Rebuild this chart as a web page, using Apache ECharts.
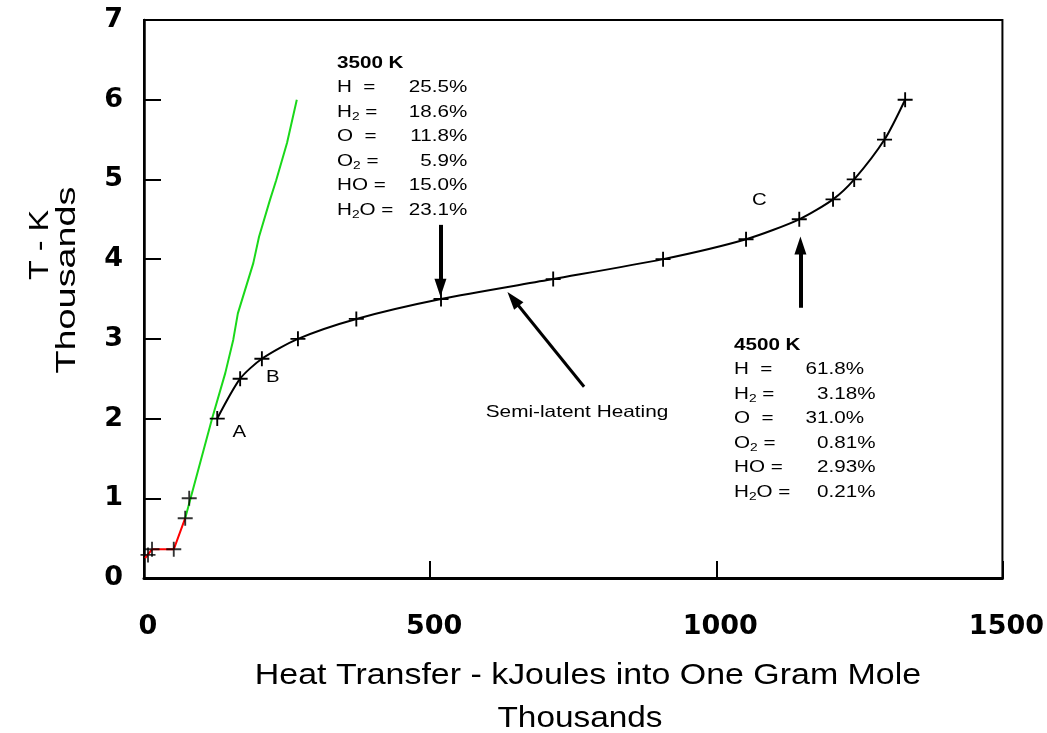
<!DOCTYPE html>
<html>
<head>
<meta charset="utf-8">
<script src="https://cdn.jsdelivr.net/npm/echarts@6/dist/echarts.min.js"></script>
<style>
  html, body { margin: 0; padding: 0; background: #fff; }
  #chart { width: 1047px; height: 733px; }
</style>
</head>
<body>
<div id="chart"></div>
<script>
// Heating of one gram mole of water: heat added (kJ, thousands) vs temperature (K, thousands)

// Early heating points (liquid / vaporisation)
const heatLow = [7, 14, 52, 72, 79];
const tempLow = [0.29, 0.36, 0.36, 0.75, 1.0];

// Dissociating vapour curve, points A onwards
const heatMain = [128, 168, 206, 269, 371, 519, 715, 907, 1052, 1145, 1204, 1241, 1294, 1330];
const tempMain = [2.0, 2.5, 2.75, 3.0, 3.25, 3.5, 3.75, 4.0, 4.25, 4.5, 4.75, 5.0, 5.5, 6.0];

// Liquid water + boiling segment
const heatRed = [2, 14, 52, 72];
const tempRed = [0.25, 0.36, 0.36, 0.75];

// Steam without dissociation
const heatGreen = [72, 119, 142, 156, 164, 191, 201, 220, 231, 250, 267];
const tempGreen = [0.75, 2.0, 2.57, 2.99, 3.32, 3.95, 4.28, 4.74, 4.99, 5.46, 6.0];

// Axis ticks
const xTicks = [0, 500, 1000, 1500];
const yTicks = [0, 1, 2, 3, 4, 5, 6, 7];

// Equilibrium composition tables
const species = ['H  =', 'H{s|2} =', 'O  =', 'O{s|2} =', 'HO =', 'H{s|2}O ='];
const comp3500 = ['25.5', '18.6', '11.8', '5.9', '15.0', '23.1'];
const comp4500 = ['61.8', '3.18', '31.0', '0.81', '2.93', '0.21'];

// Point letters on the main curve (index into heatMain/tempMain)
const pointNames = [{ i: 0, text: 'A' }, { i: 2, text: 'B' }, { i: 9, text: 'C' }];

// Arrows: [from, to] in data units
const arrows = [
  { from: [518, 4.43], to: [518, 3.64], width: 4 },
  { from: [769, 2.40], to: [645, 3.50], width: 3 },
  { from: [1147, 3.39], to: [1147, 4.17], width: 4 }
];

const zip = (a, b) => a.map((v, i) => [v, b[i]]);
const PLUS = 'path://M7,0H9V7H16V9H9V16H7V9H0V7H7Z';
const FONT = '"Liberation Sans", Arial, sans-serif';
const STRETCH = 1.25;

const chart = echarts.init(document.getElementById('chart'));

const tickLabel = {
  color: '#000', fontFamily: 'DejaVu Sans', fontWeight: 'bold', fontSize: 27,
  formatter: v => String(v)
};

const option = {
  animation: false,
  backgroundColor: '#fff',
  grid: { left: 144, right: 44, top: 20, bottom: 155, show: true, borderColor: '#000', borderWidth: 2, backgroundColor: 'transparent' },
  xAxis: {
    type: 'value',
    min: xTicks[0], max: xTicks[xTicks.length - 1], interval: xTicks[1] - xTicks[0],
    axisLine: { show: true, onZero: false, lineStyle: { color: '#000', width: 3 } },
    axisTick: { show: true, inside: true, length: 17, lineStyle: { color: '#000', width: 2 } },
    axisLabel: Object.assign({}, tickLabel, { margin: 35, padding: [0, 0, 0, 8] }),
    splitLine: { show: false }
  },
  yAxis: {
    type: 'value',
    min: yTicks[0], max: yTicks[yTicks.length - 1], interval: yTicks[1] - yTicks[0],
    axisLine: { show: true, onZero: false, lineStyle: { color: '#000', width: 2.5 } },
    axisTick: { show: true, inside: true, length: 17, lineStyle: { color: '#000', width: 2 } },
    axisLabel: Object.assign({}, tickLabel, { margin: 21 }),
    splitLine: { show: false }
  },
  series: [
    {
      name: 'liquid', type: 'line', data: zip(heatRed, tempRed),
      symbol: 'none', lineStyle: { color: '#ff0000', width: 2 }, z: 2
    },
    {
      name: 'steam', type: 'line', data: zip(heatGreen, tempGreen),
      symbol: 'none', lineStyle: { color: '#1ad81a', width: 2 }, z: 3
    },
    {
      name: 'low', type: 'scatter', data: zip(heatLow, tempLow),
      symbol: PLUS, symbolSize: 15, itemStyle: { color: '#000' }, z: 5
    },
    {
      name: 'dissociating', type: 'line', data: zip(heatMain, tempMain),
      smooth: 0.25, symbol: PLUS, symbolSize: 15, showSymbol: true,
      lineStyle: { color: '#000', width: 2 }, itemStyle: { color: '#000' }, z: 4,
      markLine: {
        silent: true, animation: false,
        symbol: ['none', 'triangle'], symbolSize: [12, 18],
        label: { show: false },
        itemStyle: { color: '#000' },
        lineStyle: { color: '#000', type: 'solid', width: 4 },
        data: arrows.map(a => [
          { coord: a.from, lineStyle: { width: a.width, color: '#000', type: 'solid' } },
          { coord: a.to, lineStyle: { width: a.width, color: '#000', type: 'solid' } }
        ])
      }
    }
  ]
};

chart.setOption(option);

// Annotation text
function txt(x, y, text, o) {
  o = o || {};
  return {
    type: 'text', x: x, y: y, z: 100,
    scaleX: o.scaleX || STRETCH, rotation: o.rotation || 0,
    style: {
      text: text, fontFamily: FONT, fontSize: o.size || 16.5,
      fontWeight: o.bold ? 'bold' : 'normal', fill: '#000',
      align: o.align || 'left', verticalAlign: 'middle', lineHeight: 20,
      rich: { s: { fontFamily: FONT, fontSize: 11, lineHeight: 11, verticalAlign: 'bottom', fill: '#000' } }
    }
  };
}

function compBlock(x, decX, y0, title, values) {
  const out = [txt(x, y0, title, { bold: true })];
  species.forEach((s, i) => {
    const y = y0 + 24.5 * (i + 1);
    const parts = values[i].split('.');
    out.push(txt(x, y, s));
    out.push(txt(decX, y, parts[0], { align: 'right' }));
    out.push(txt(decX, y, '.' + parts[1] + '%'));
  });
  return out;
}

const letterOffsets = { A: [22, 14], B: [11, 19], C: [-40, -19] };
const graphic = []
  .concat(compBlock(337, 431.7, 63, '3500 K', comp3500))
  .concat(compBlock(734, 828.5, 345, '4500 K', comp4500))
  .concat([
    txt(577, 412, 'Semi-latent Heating', { align: 'center', scaleX: 1.26 }),
    txt(588, 676, 'Heat Transfer - kJoules into One Gram Mole', { align: 'center', size: 29, scaleX: 1.17 }),
    txt(580, 719, 'Thousands', { align: 'center', size: 29, scaleX: 1.15 }),
    txt(41, 245, 'T - K', { align: 'center', size: 27, scaleX: 1.2, rotation: Math.PI / 2 }),
    txt(68, 280, 'Thousands', { align: 'center', size: 27, scaleX: 1.4, rotation: Math.PI / 2 })
  ]);

pointNames.forEach(p => {
  const px = chart.convertToPixel({ gridIndex: 0 }, [heatMain[p.i], tempMain[p.i]]);
  const off = letterOffsets[p.text];
  graphic.push(txt(px[0] + off[0], px[1] + off[1], p.text, { align: 'center', size: 17, scaleX: 1.2 }));
});

chart.setOption({ graphic: graphic });
</script>
</body>
</html>
